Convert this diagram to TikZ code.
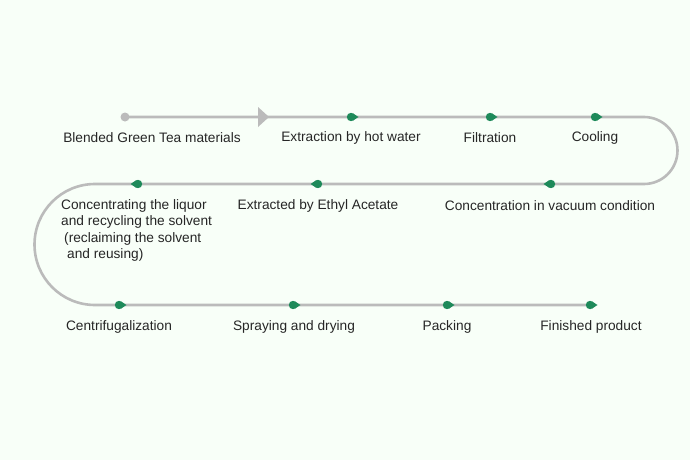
\documentclass[tikz,border=0pt]{standalone}
\usepackage{fontspec}
\setmainfont{Liberation Sans}
\definecolor{bg}{HTML}{F8FFF8}
\definecolor{ln}{HTML}{BBBBBB}
\definecolor{gr}{HTML}{1E8A5A}
\tikzset{
  flow/.style={draw=ln,line width=2.6pt},
  lbl/.style={font=\fontsize{13.7}{16}\selectfont,text=black!85,inner sep=0pt,anchor=center},
  drop/.pic={\fill[gr] (0,0) circle (4.2);\fill[gr] (1.5,3.9)--(7.5,0)--(1.5,-3.9)--cycle;}
}
\begin{document}
\begin{tikzpicture}[x=1pt,y=-1pt]
\fill[bg] (0,0) rectangle (690,460);
\useasboundingbox (0,0) rectangle (690,460);
\coordinate (s) at (125,117);
\coordinate (r1) at (644,117);
\coordinate (l2) at (95,184);
\coordinate (e) at (590,305);
\draw[flow] (s) -- (r1) arc[start angle=-90,end angle=90,radius=33.5] -- (l2) arc[start angle=-90,end angle=-270,radius=60.5] -- (e);
\fill[ln] (s) circle (4.5);
\fill[ln] (258,107) -- (269,117) -- (258,127) -- cycle;
\foreach \x in {351,490,595} \pic at (\x,117) {drop};
\foreach \x in {551,318,138} \pic[rotate=180] at (\x,184) {drop};
\foreach \x in {119,293,447,590} \pic at (\x,305) {drop};
\node[lbl] (a) at (152,138) {Blended Green Tea materials};
\node[lbl] (b) at (351,138) {Extraction by hot water};
\node[lbl] (c) at (490,138) {Filtration};
\node[lbl] (d) at (595,138) {Cooling};
\node[lbl] (f) at (550,206) {Concentration in vacuum condition};
\node[lbl] (g) at (318,206) {Extracted by Ethyl Acetate};
\node[lbl,anchor=north west,align=left,font=\fontsize{13.7}{16.5}\selectfont] (h) at (61,199) {Concentrating the liquor\\and recycling the solvent\\\hspace*{3pt}(reclaiming the solvent\\\hspace*{6pt}and reusing)};
\node[lbl] (i) at (119,327) {Centrifugalization};
\node[lbl] (j) at (294,327) {Spraying and drying};
\node[lbl] (k) at (447,327) {Packing};
\node[lbl] (m) at (591,327) {Finished product};
\end{tikzpicture}
\end{document}
